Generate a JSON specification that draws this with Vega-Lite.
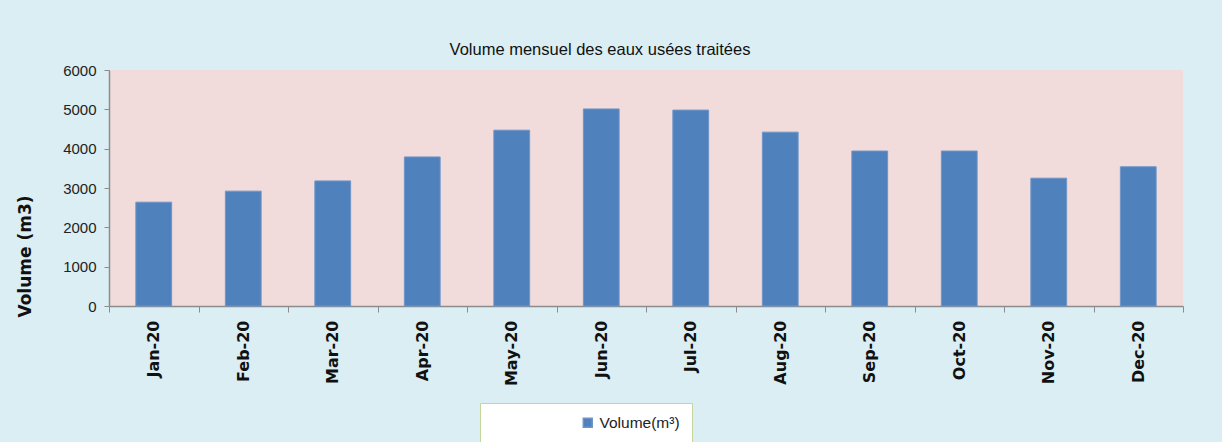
{
  "$schema": "https://vega.github.io/schema/vega-lite/v6.json",
  "autosize": {"type": "none"},
  "width": 1074,
  "height": 236,
  "padding": {"left": 109, "top": 70, "right": 39, "bottom": 136},
  "background": "#DAEEF3",
  "view": {"fill": "#F2DCDB", "stroke": null},
  "title": {
    "text": "Volume mensuel des eaux usées traitées",
    "font": "Liberation Sans",
    "fontSize": 16.5,
    "fontWeight": "normal",
    "color": "#111111",
    "anchor": "middle",
    "dx": -46,
    "offset": 5
  },
  "data": {
    "values": [
      {"month": "Jan-20", "volume": 2640, "series": "Volume(m³)"},
      {"month": "Feb-20", "volume": 2920, "series": "Volume(m³)"},
      {"month": "Mar-20", "volume": 3180, "series": "Volume(m³)"},
      {"month": "Apr-20", "volume": 3790, "series": "Volume(m³)"},
      {"month": "May-20", "volume": 4470, "series": "Volume(m³)"},
      {"month": "Jun-20", "volume": 5010, "series": "Volume(m³)"},
      {"month": "Jul-20", "volume": 4980, "series": "Volume(m³)"},
      {"month": "Aug-20", "volume": 4420, "series": "Volume(m³)"},
      {"month": "Sep-20", "volume": 3940, "series": "Volume(m³)"},
      {"month": "Oct-20", "volume": 3940, "series": "Volume(m³)"},
      {"month": "Nov-20", "volume": 3250, "series": "Volume(m³)"},
      {"month": "Dec-20", "volume": 3540, "series": "Volume(m³)"}
    ]
  },
  "mark": {"type": "bar", "stroke": "#6F95C8", "strokeWidth": 1, "width": {"band": 0.4}},
  "encoding": {
    "x": {
      "field": "month",
      "type": "nominal",
      "sort": null,
      "scale": {"paddingInner": 0, "paddingOuter": 0},
      "axis": {
        "title": null,
        "labelAngle": 270,
        "labelAlign": "right",
        "labelBaseline": "middle",
        "labelFont": "DejaVu Sans",
        "labelFontWeight": "bold",
        "labelFontSize": 16,
        "labelColor": "#111111",
        "labelPadding": 8,
        "tickBand": "extent",
        "tickSize": 6,
        "tickColor": "#8C8C8C",
        "domainColor": "#8C8C8C",
        "domainWidth": 1.5
      }
    },
    "y": {
      "field": "volume",
      "type": "quantitative",
      "scale": {"domain": [0, 6000], "nice": false},
      "axis": {
        "title": "Volume (m3)",
        "titleFont": "DejaVu Sans",
        "titleFontWeight": "bold",
        "titleFontSize": 17,
        "titleColor": "#111111",
        "titleX": -84,
        "titleY": 186,
        "titleAngle": 270,
        "titleAlign": "center",
        "titleBaseline": "middle",
        "values": [0, 1000, 2000, 3000, 4000, 5000, 6000],
        "format": "d",
        "labelFont": "Liberation Sans",
        "labelFontSize": 15,
        "labelColor": "#222222",
        "labelPadding": 8,
        "tickSize": 5,
        "tickColor": "#8C8C8C",
        "domainColor": "#8C8C8C",
        "domainWidth": 1.5,
        "grid": false
      }
    },
    "color": {
      "field": "series",
      "type": "nominal",
      "scale": {"range": ["#4F81BD"]},
      "legend": {
        "title": null,
        "orient": "none",
        "legendX": 371,
        "legendY": 333,
        "fillColor": "#FFFFFF",
        "strokeColor": "#C4D79B",
        "padding": 12,
        "symbolType": "square",
        "symbolSize": 80,
        "symbolOffset": 88,
        "labelFont": "Liberation Sans",
        "labelFontSize": 15.5,
        "labelColor": "#222222",
        "labelOffset": 4
      }
    }
  }
}
